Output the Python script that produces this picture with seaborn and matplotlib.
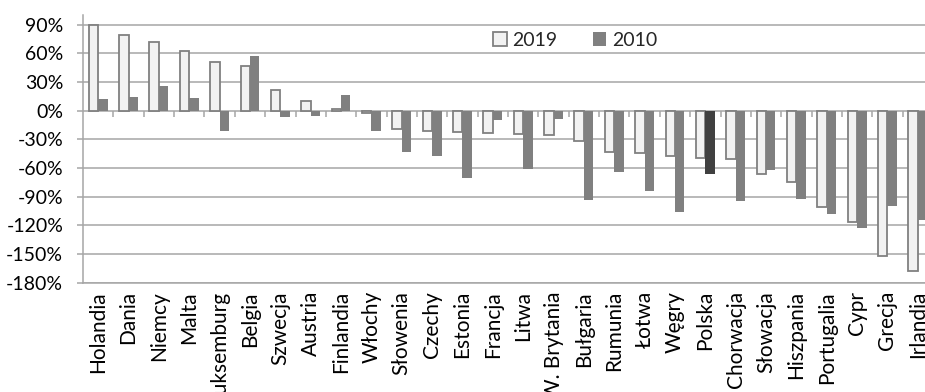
import matplotlib
matplotlib.use("Agg")
import matplotlib.pyplot as plt
import matplotlib.ticker as mticker
from matplotlib.patches import Patch
import numpy as np
import pandas as pd
import seaborn as sns

countries = ["Holandia", "Dania", "Niemcy", "Malta", "Luksemburg", "Belgia", "Szwecja",
             "Austria", "Finlandia", "Włochy", "Słowenia", "Czechy", "Estonia", "Francja",
             "Litwa", "W. Brytania", "Bułgaria", "Rumunia", "Łotwa", "Węgry", "Polska",
             "Chorwacja", "Słowacja", "Hiszpania", "Portugalia", "Cypr", "Grecja", "Irlandia"]
values_2019 = [90, 79, 72, 62, 51, 47, 22, 10, 2, -2, -19, -21, -22, -23, -24, -26,
               -32, -43, -44, -47, -50, -51, -66, -75, -101, -116, -152, -168]
values_2010 = [12, 14, 26, 13, -21, 57, -7, -6, 16, -21, -43, -47, -70, -10, -61, -9,
               -93, -64, -84, -106, -66, -95, -62, -92, -108, -123, -100, -114]
years = ["2019", "2010"]
y_ticks = list(range(-180, 91, 30))
highlight = "Polska"

df = pd.DataFrame({
    "kraj": countries * 2,
    "rok": [years[0]] * len(countries) + [years[1]] * len(countries),
    "wartosc": values_2019 + values_2010,
})

sns.set_theme(style="white")
plt.rcParams["font.family"] = ["Lato", "DejaVu Sans"]

grid_col = "#a6a6a6"
light = "#f2f2f2"
dark = "#808080"
edge = "#808080"

fig = plt.figure(figsize=(9.25, 3.92), dpi=100)
ax = fig.add_axes([83 / 925, 1 - 282.7 / 392, 850 / 925, (282.7 - 15) / 392])

sns.barplot(data=df, x="kraj", y="wartosc", hue="rok", hue_order=years,
            palette=[light, dark], width=0.62, gap=0, dodge=True,
            errorbar=None, legend=False, ax=ax, zorder=3)

# outline the light series, flat fill for the dark one
for patch in ax.containers[0]:
    patch.set_edgecolor(edge)
    patch.set_linewidth(1.3)
for patch in ax.containers[1]:
    patch.set_edgecolor("none")
ax.containers[1][countries.index(highlight)].set_facecolor("#404040")

ax.set_xlim(-0.5, len(countries) - 0.5)
ax.set_ylim(-180, 100)
ax.set_yticks(y_ticks)
ax.yaxis.set_major_formatter(mticker.FuncFormatter(lambda v, _: f"{int(v)}%"))
ax.grid(axis="y", color=grid_col, linewidth=1.1)
ax.grid(axis="x", visible=False)
ax.set_axisbelow(True)

# category separators hanging below the zero line
ax.vlines(np.arange(0.5, len(countries), 1.0), -7, 0, colors=grid_col,
          linewidth=1.1, zorder=2)

for side in ("top", "right"):
    ax.spines[side].set_visible(False)
ax.spines["left"].set_color(grid_col)
ax.spines["bottom"].set_color(grid_col)
ax.spines["left"].set_linewidth(1.1)
ax.spines["bottom"].set_linewidth(1.1)

ax.tick_params(axis="y", which="major", length=4.3, width=1.1, color=grid_col,
               pad=10, labelsize=14, labelcolor="black", left=True)
ax.tick_params(axis="x", length=0, pad=6, labelsize=15, labelcolor="black")
plt.setp(ax.get_xticklabels(), rotation=90, va="top", ha="center")
ax.set_xlabel("")
ax.set_ylabel("")

handles = [Patch(facecolor=light, edgecolor=edge, linewidth=1.3, label=years[0]),
           Patch(facecolor=dark, edgecolor="none", label=years[1])]
ax.legend(handles=handles, ncol=2, frameon=False, loc="center",
          bbox_to_anchor=(0.579, 0.906), handlelength=0.7, handleheight=0.7,
          handletextpad=0.3, columnspacing=1.8, fontsize=14)

fig.savefig("out.png", dpi=100)
